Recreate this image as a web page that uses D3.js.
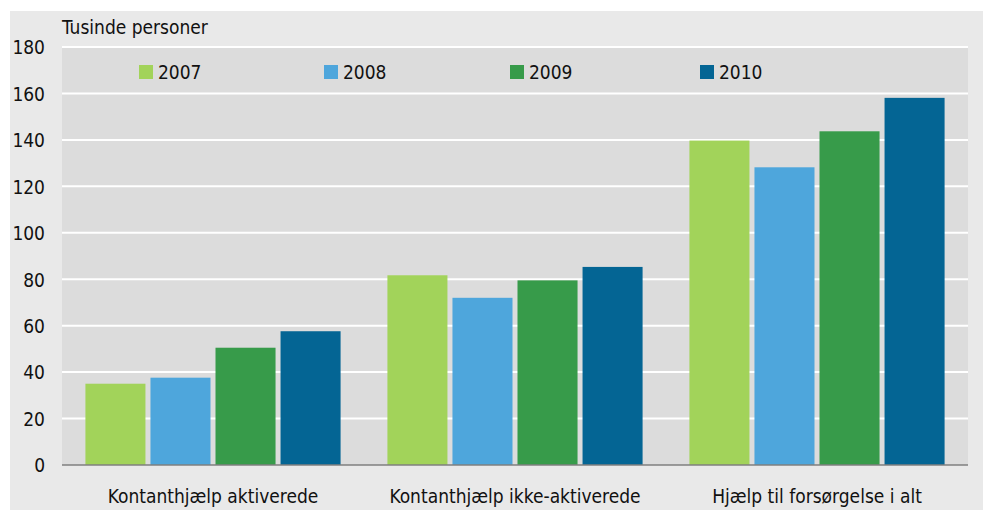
<!DOCTYPE html>
<html>
<head>
<meta charset="utf-8">
<script src="https://cdn.jsdelivr.net/npm/d3@7"></script>
<style>
  body { margin: 0; background: #fff; }
  text { font-family: "Liberation Sans Narrow", "Arial Narrow", "DejaVu Sans Condensed", sans-serif; fill: #111; }
</style>
</head>
<body>
<script>
// categories and series
const categories = ["Kontanthjælp aktiverede", "Kontanthjælp ikke-aktiverede", "Hjælp til forsørgelse i alt"];
const years = ["2007", "2008", "2009", "2010"];
const values2007 = [35, 81.7, 139.7];
const values2008 = [37.6, 72, 128.2];
const values2009 = [50.5, 79.5, 143.7];
const values2010 = [57.6, 85.3, 158.1];
const yTicks = [0, 20, 40, 60, 80, 100, 120, 140, 160, 180];
const colors = ["#a2d35a", "#4ea6dc", "#379b4a", "#046594"];

const series = [values2007, values2008, values2009, values2010];
const rows = categories.map((c, i) => ({cat: c, vals: years.map((y, j) => ({year: y, v: series[j][i]}))}));

const width = 983, height = 511;
const margin = {top: 47, right: 15, bottom: 46, left: 62};

const svg = d3.select("body").append("svg")
    .attr("width", width)
    .attr("height", height);

// outer panel
svg.append("rect")
    .attr("x", 10).attr("y", 11)
    .attr("width", width - 10).attr("height", 499)
    .attr("fill", "#e9e9e9");

const x0 = d3.scaleBand()
    .domain(categories)
    .range([margin.left, width - margin.right])
    .padding(0);

const x1 = d3.scaleBand()
    .domain(years)
    .range([0, x0.bandwidth()])
    .paddingInner(0.077)
    .paddingOuter(0.36);

const y = d3.scaleLinear()
    .domain([0, 180])
    .range([height - margin.bottom, margin.top]);

// plot background
svg.append("rect")
    .attr("x", margin.left).attr("y", margin.top)
    .attr("width", width - margin.right - margin.left)
    .attr("height", y(0) - margin.top)
    .attr("fill", "#dcdcdc");

// gridlines
svg.append("g")
    .selectAll("line")
    .data(yTicks.filter(d => d > 0))
    .join("line")
        .attr("x1", margin.left)
        .attr("x2", width - margin.right)
        .attr("y1", d => y(d))
        .attr("y2", d => y(d))
        .attr("stroke", "#fff")
        .attr("stroke-width", 2);

// y axis labels
const yAxis = svg.append("g")
    .attr("transform", `translate(${margin.left},0)`)
    .call(d3.axisLeft(y).tickValues(yTicks).tickSize(0).tickPadding(17));
yAxis.select(".domain").remove();
yAxis.selectAll("text")
    .style("font-size", "19px")
    .attr("dy", "0.36em");

svg.append("text")
    .attr("x", margin.left)
    .attr("y", 34)
    .style("font-size", "19px")
    .text("Tusinde personer");

// bars
const groups = svg.append("g")
    .selectAll("g")
    .data(rows)
    .join("g")
        .attr("transform", d => `translate(${x0(d.cat)},0)`);

groups.selectAll("rect")
    .data(d => d.vals)
    .join("rect")
        .attr("x", d => x1(d.year))
        .attr("y", d => y(d.v))
        .attr("width", x1.bandwidth())
        .attr("height", d => y(0) - y(d.v))
        .attr("fill", (d, i) => colors[i]);

// baseline
svg.append("line")
    .attr("x1", margin.left)
    .attr("x2", width - margin.right)
    .attr("y1", y(0))
    .attr("y2", y(0))
    .attr("stroke", "#7f7f7f")
    .attr("stroke-width", 1.5);

// x axis labels
const xAxis = svg.append("g")
    .attr("transform", `translate(0,${y(0)})`)
    .call(d3.axisBottom(x0).tickSize(0).tickPadding(25));
xAxis.select(".domain").remove();
xAxis.selectAll("text")
    .style("font-size", "19px");

// legend
const legendX = [139, 324, 510, 700];
const legend = svg.append("g")
    .selectAll("g")
    .data(years)
    .join("g")
        .attr("transform", (d, i) => `translate(${legendX[i]},65)`);

legend.append("rect")
    .attr("width", 14)
    .attr("height", 14)
    .attr("fill", (d, i) => colors[i]);

legend.append("text")
    .attr("x", 19)
    .attr("y", 7)
    .attr("dy", "0.36em")
    .style("font-size", "19px")
    .text(d => d);
</script>
</body>
</html>
